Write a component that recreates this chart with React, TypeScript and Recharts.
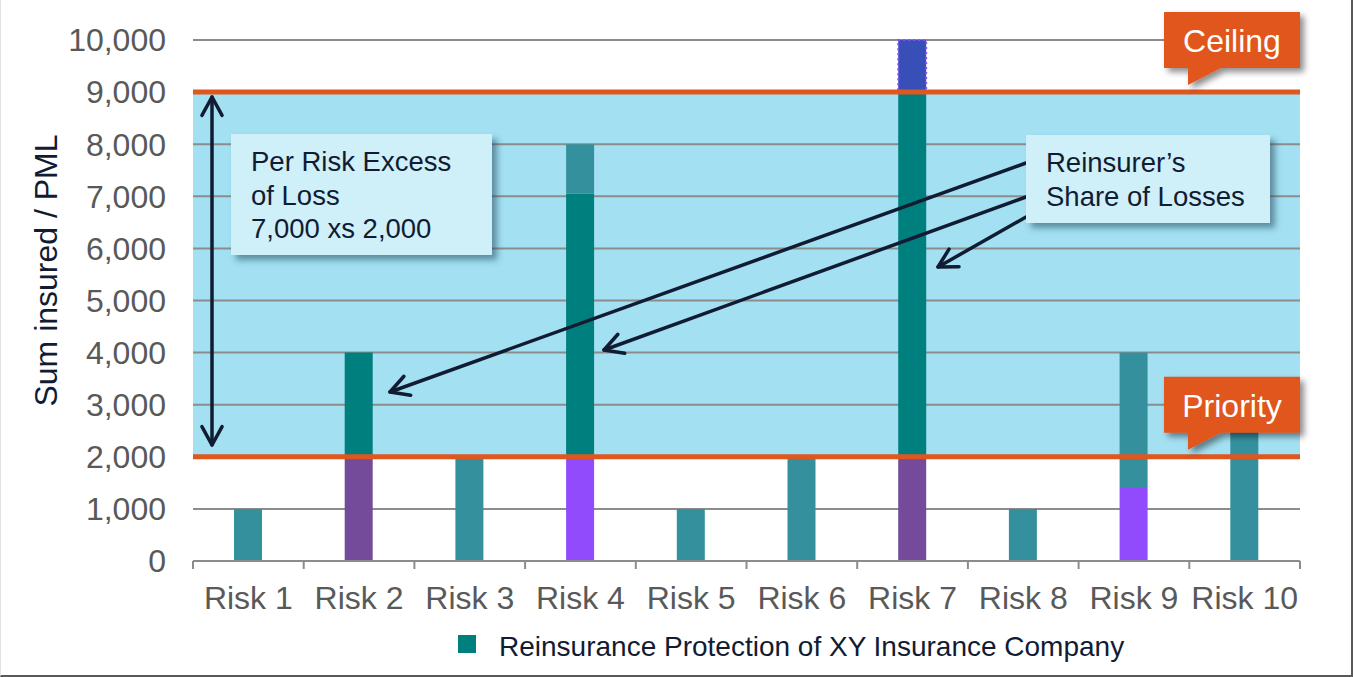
import React from "react";
import {
  BarChart, Bar, Cell, XAxis, YAxis, CartesianGrid, ReferenceArea, ReferenceLine, Legend,
} from "recharts";

const categories = ["Risk 1", "Risk 2", "Risk 3", "Risk 4", "Risk 5", "Risk 6", "Risk 7", "Risk 8", "Risk 9", "Risk 10"];
// stacked pieces of each risk's sum insured, bottom to top
const retained = [1000, 2000, 2000, 2000, 1000, 2000, 2000, 1000, 1400, 3000];
const layer = [0, 2000, 0, 5050, 0, 0, 7000, 0, 2600, 0];
const excess = [0, 0, 0, 950, 0, 0, 1000, 0, 0, 0];
const yTicks = [0, 1000, 2000, 3000, 4000, 5000, 6000, 7000, 8000, 9000, 10000];
const PRIORITY = 2000;
const CEILING = 9000;

const TEAL = "#35909e";
const DEEP = "#007f7f";
const PURPLE = "#744a9a";
const VIOLET = "#914bfd";
const BLUE = "#394fb8";
const retainedFill = [TEAL, PURPLE, TEAL, VIOLET, TEAL, TEAL, PURPLE, TEAL, VIOLET, TEAL];
const layerFill = [DEEP, DEEP, DEEP, DEEP, DEEP, DEEP, DEEP, DEEP, TEAL, DEEP];
const excessFill = [TEAL, TEAL, TEAL, TEAL, TEAL, TEAL, BLUE, TEAL, TEAL, TEAL];

const data = categories.map((name, i) => ({
  name, retained: retained[i], layer: layer[i], excess: excess[i],
}));

const W = 1353;
const H = 677;
const M = { top: 40, right: 53, bottom: 56, left: 0 };
const Y_AXIS_W = 193;
const BAND = (W - M.right - Y_AXIS_W) / categories.length;

const FONT = '"Liberation Sans", Arial, sans-serif';
const INK = "#111c33";
const GRID = "#8c8c8c";
const ORANGE = "#e0561f";

function RiskTick(props: any) {
  const { x, y, payload, index } = props;
  const last = index === categories.length - 1;
  return (
    <g>
      <line x1={x - BAND / 2} x2={x - BAND / 2} y1={y} y2={y + 8} stroke={GRID} strokeWidth={2} />
      {last && <line x1={x + BAND / 2} x2={x + BAND / 2} y1={y} y2={y + 8} stroke={GRID} strokeWidth={2} />}
      <text x={x} y={y + 48} textAnchor="middle" fontSize={32} fontFamily={FONT} fill="#595959">
        {payload.value}
      </text>
    </g>
  );
}

function Callout(props: any) {
  const { viewBox, text, id } = props;
  if (!viewBox) return null;
  const right = viewBox.x + viewBox.width;
  const y = viewBox.y;
  const left = right - 136;
  const top = y - 80;
  const bottom = y - 24;
  return (
    <g>
      <defs>
        <filter id={id} x="-20%" y="-20%" width="140%" height="160%">
          <feDropShadow dx={4} dy={4} stdDeviation={3} floodColor="#000" floodOpacity={0.45} />
        </filter>
      </defs>
      <path
        d={`M${left},${top} H${right} V${bottom} H${left + 57} L${left + 24},${y - 7} V${bottom} H${left} Z`}
        fill={ORANGE}
        filter={`url(#${id})`}
      />
      <text x={left + 68} y={top + 40} textAnchor="middle" fontSize={32} fontFamily={FONT} fill="#fff">
        {text}
      </text>
    </g>
  );
}

function YTitle(props: any) {
  const vb = props.viewBox || { x: 0, y: M.top, height: H - M.top - M.bottom - 60 };
  const cx = vb.x + 57;
  const cy = vb.y + vb.height / 2 - 30;
  return (
    <text x={cx} y={cy} transform={`rotate(-90, ${cx}, ${cy})`} textAnchor="middle" fontSize={32} fontFamily={FONT} fill={INK}>
      Sum insured / PML
    </text>
  );
}

function LegendRow() {
  return (
    <div style={{ position: "relative", width: W, height: 40, fontFamily: FONT }}>
      <div style={{ position: "absolute", left: 458, top: 7, width: 18, height: 18, background: DEEP }} />
      <div style={{ position: "absolute", left: 499, top: 3, fontSize: 28, lineHeight: "32px", color: INK, whiteSpace: "nowrap" }}>
        Reinsurance Protection of XY Insurance Company
      </div>
    </div>
  );
}

// open V arrowhead at (x2, y2) for a line coming from (x1, y1)
function head(x1: number, y1: number, x2: number, y2: number, len = 21, spread = 0.5) {
  const a = Math.atan2(y1 - y2, x1 - x2);
  const p1 = [x2 + len * Math.cos(a + spread), y2 + len * Math.sin(a + spread)];
  const p2 = [x2 + len * Math.cos(a - spread), y2 + len * Math.sin(a - spread)];
  return `${p1[0]},${p1[1]} ${x2},${y2} ${p2[0]},${p2[1]}`;
}

function Arrow({ x1, y1, x2, y2, both = false }: any) {
  return (
    <g stroke={INK} strokeWidth={3.5} fill="none" strokeLinecap="round" strokeLinejoin="round">
      <line x1={x1} y1={y1} x2={x2} y2={y2} />
      <polyline points={head(x1, y1, x2, y2)} />
      {both && <polyline points={head(x2, y2, x1, y1)} />}
    </g>
  );
}

function NoteBox({ x, y, w, h, lines }: any) {
  return (
    <g>
      <rect x={x} y={y} width={w} height={h} fill="#cfeff9" filter="url(#noteShadow)" />
      {lines.map((t: string, i: number) => (
        <text key={i} x={x + 20} y={y + 37 + i * 33.5} fontSize={27.5} fontFamily={FONT} fill={INK}>
          {t}
        </text>
      ))}
    </g>
  );
}

export default function App() {
  return (
    <div style={{ position: "absolute", left: 0, top: 0, width: W, height: H, background: "#fff" }}>
      <BarChart width={W} height={H} data={data} margin={M} barSize={28}>
        <ReferenceArea y1={PRIORITY} y2={CEILING} fill="#a3e0f2" fillOpacity={1} stroke="none" zIndex={-150} ifOverflow="visible" />
        <CartesianGrid vertical={false} stroke={GRID} strokeWidth={2} />
        <XAxis
          dataKey="name"
          height={60}
          tickSize={0}
          tickMargin={0}
          tickLine={false}
          axisLine={{ stroke: GRID, strokeWidth: 2 }}
          tick={<RiskTick />}
          interval={0}
        />
        <YAxis
          width={Y_AXIS_W}
          domain={[0, 10000]}
          ticks={yTicks}
          axisLine={false}
          tickLine={false}
          tickSize={0}
          tickMargin={27}
          tickFormatter={(v: number) => v.toLocaleString("en-US")}
          tick={{ fill: "#595959", fontSize: 32, fontFamily: FONT }}
          label={(p: any) => <YTitle {...p} />}
        />
        <Bar dataKey="retained" stackId="s" isAnimationActive={false}>
          {data.map((_, i) => <Cell key={i} fill={retainedFill[i]} />)}
        </Bar>
        <Bar dataKey="layer" stackId="s" isAnimationActive={false}>
          {data.map((_, i) => <Cell key={i} fill={layerFill[i]} />)}
        </Bar>
        <Bar dataKey="excess" stackId="s" isAnimationActive={false}>
          {data.map((_, i) => (
            <Cell
              key={i}
              fill={excessFill[i]}
              stroke={excessFill[i] === BLUE ? "#8b4dff" : "none"}
              strokeWidth={2}
              strokeDasharray="2 3"
            />
          ))}
        </Bar>
        <ReferenceLine
          y={PRIORITY}
          stroke={ORANGE}
          strokeWidth={5}
          zIndex={1500}
          label={(p: any) => <Callout {...p} text="Priority" id="shPriority" />}
        />
        <ReferenceLine
          y={CEILING}
          stroke={ORANGE}
          strokeWidth={5}
          zIndex={1500}
          label={(p: any) => <Callout {...p} text="Ceiling" id="shCeiling" />}
        />
        <Legend
          layout="horizontal"
          verticalAlign="middle"
          align="center"
          wrapperStyle={{ top: 628, left: 0, width: W, height: 40 }}
          content={() => <LegendRow />}
        />
      </BarChart>

      <svg width={W} height={H} style={{ position: "absolute", left: 0, top: 0, pointerEvents: "none" }}>
        <defs>
          <filter id="noteShadow" x="-10%" y="-10%" width="125%" height="135%">
            <feDropShadow dx={5} dy={5} stdDeviation={3} floodColor="#1d4a5a" floodOpacity={0.55} />
          </filter>
        </defs>
        <Arrow x1={212} y1={97} x2={212} y2={445} both />
        <NoteBox x={231} y={134} w={261} h={121} lines={["Per Risk Excess", "of Loss", "7,000 xs 2,000"]} />
        <Arrow x1={1026} y1={163} x2={390} y2={392} />
        <Arrow x1={1026} y1={197} x2={604} y2={350} />
        <Arrow x1={1026} y1={217} x2={938} y2={267} />
        <NoteBox x={1026} y={135} w={244} h={88} lines={["Reinsurer\u2019s", "Share of Losses"]} />
      </svg>

      <div
        style={{
          position: "absolute", left: 0, top: 0, width: W, height: H, boxSizing: "border-box",
          borderLeft: "1px solid #e2e2e2", borderRight: "2px solid #595959", borderBottom: "2px solid #595959",
          pointerEvents: "none",
        }}
      />
    </div>
  );
}
